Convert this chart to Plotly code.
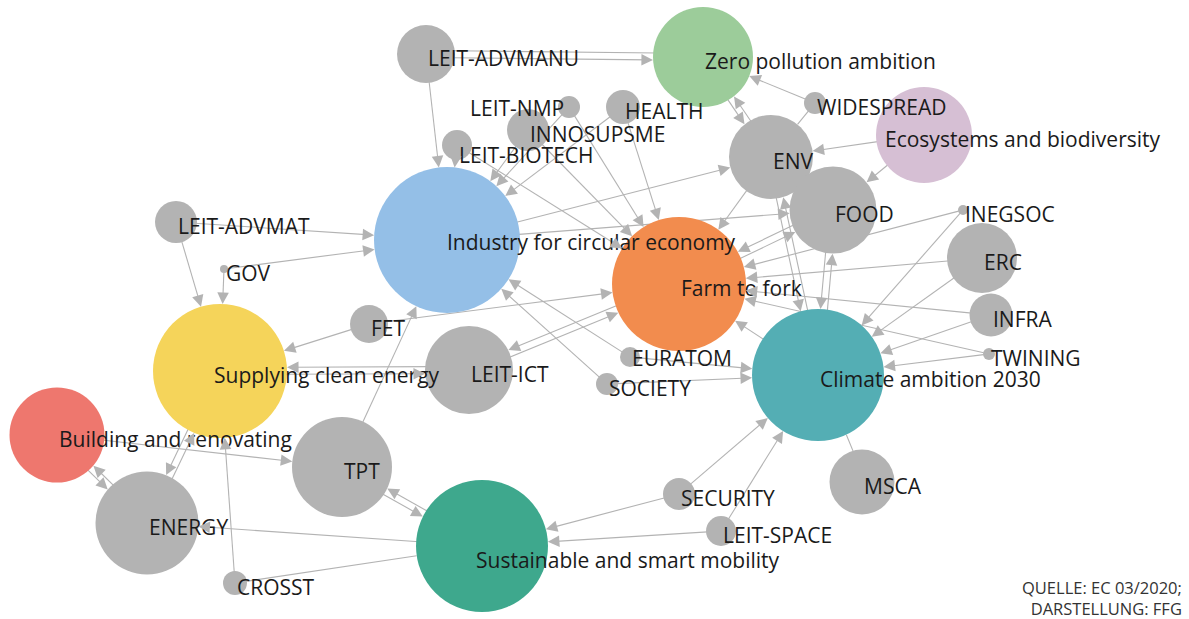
import math
import plotly.graph_objects as go

# ---------------- data ----------------
node_names = [
    "LEIT-ADVMANU", "Zero pollution ambition", "LEIT-NMP", "HEALTH", "INNOSUPSME",
    "LEIT-BIOTECH", "WIDESPREAD", "ENV", "Ecosystems and biodiversity", "FOOD",
    "INEGSOC", "ERC", "INFRA", "TWINING", "Climate ambition 2030",
    "Farm to fork", "Industry for circular economy", "LEIT-ADVMAT", "GOV",
    "Supplying clean energy", "FET", "LEIT-ICT", "EURATOM", "SOCIETY",
    "Building and renovating", "ENERGY", "TPT", "CROSST",
    "Sustainable and smart mobility", "SECURITY", "LEIT-SPACE", "MSCA",
]
node_x = [426, 703, 569, 623, 528, 457, 815, 771, 924, 833, 963, 982, 991, 989, 818,
          679, 447, 176, 224, 220, 369, 469, 630, 607, 57, 147, 342, 235, 482, 679, 721, 862]
node_y = [54, 57, 107, 107, 130, 145, 103, 157, 135, 210, 210, 258, 315, 354, 375,
          284, 240, 222, 269, 371, 324, 370, 357, 384, 435, 523, 467, 583, 546, 494, 531, 482]
node_size = [29, 50, 11, 17, 21, 15, 11, 42, 48, 43.5, 5, 35, 21.5, 6, 66,
             67, 73, 21, 4, 67, 19, 44, 10, 11, 47.5, 51.5, 50, 12, 66, 16, 15, 32.5]
GRAY = "#b3b3b3"
node_color = [GRAY, "#9ccc9a", GRAY, GRAY, GRAY, GRAY, GRAY, GRAY, "#d6bfd4", GRAY,
              GRAY, GRAY, GRAY, GRAY, "#54aeb4", "#f28c4e", "#94bfe7", GRAY, GRAY,
              "#f5d45a", GRAY, GRAY, GRAY, GRAY, "#ee776e", GRAY, GRAY, GRAY,
              "#3ea88d", GRAY, GRAY, GRAY]
label_dx = [0, 0, -101, 0, 0, 0, 0, 0, -41, 0, 0, 0, 0, 0, 0,
            0, -2, 0, 0, -8, 0, 0, 0, 0, 0, 0, 0, 0, -8, 0, 0, 0]
label_dy = [0, 0, -3, 0, 0, 6, 0, 0, 0, 0, 0, 0, 0, 0, 0,
            0, -2, 0, 0, 0, 0, 0, -3, 0, 0, 0, 0, 0, 10, 0, 0, 0]

edge_src = [
    "LEIT-ADVMANU", "Zero pollution ambition", "LEIT-ADVMANU",
    "LEIT-BIOTECH", "LEIT-NMP", "INNOSUPSME", "HEALTH",
    "LEIT-BIOTECH", "INNOSUPSME", "LEIT-NMP", "HEALTH",
    "Zero pollution ambition", "ENV", "WIDESPREAD", "WIDESPREAD",
    "Ecosystems and biodiversity", "Ecosystems and biodiversity",
    "Industry for circular economy", "Industry for circular economy",
    "ENV", "ENV", "Climate ambition 2030", "FOOD", "Climate ambition 2030",
    "FOOD", "Farm to fork", "INEGSOC", "INEGSOC", "ERC", "ERC",
    "INFRA", "INFRA", "TWINING", "TWINING", "Climate ambition 2030",
    "EURATOM", "EURATOM", "SOCIETY", "SOCIETY",
    "LEIT-ICT", "Farm to fork", "LEIT-ICT", "Supplying clean energy",
    "FET", "FET", "TPT", "LEIT-ADVMAT", "LEIT-ADVMAT", "GOV", "GOV",
    "Building and renovating", "ENERGY", "Supplying clean energy", "ENERGY",
    "Building and renovating", "CROSST", "CROSST", "Sustainable and smart mobility",
    "TPT", "Sustainable and smart mobility", "SECURITY", "SECURITY",
    "LEIT-SPACE", "LEIT-SPACE", "MSCA", "Climate ambition 2030",
]
edge_tgt = [
    "Zero pollution ambition", "LEIT-ADVMANU", "Industry for circular economy",
    "Industry for circular economy", "Industry for circular economy",
    "Industry for circular economy", "Industry for circular economy",
    "Farm to fork", "Farm to fork", "Farm to fork", "Farm to fork",
    "ENV", "Zero pollution ambition", "Zero pollution ambition", "ENV",
    "ENV", "FOOD",
    "ENV", "FOOD",
    "Farm to fork", "Climate ambition 2030", "ENV", "Climate ambition 2030", "FOOD",
    "Farm to fork", "FOOD", "Farm to fork", "Climate ambition 2030",
    "Farm to fork", "Climate ambition 2030",
    "Farm to fork", "Climate ambition 2030", "Farm to fork", "Climate ambition 2030",
    "Farm to fork",
    "Industry for circular economy", "Climate ambition 2030",
    "Industry for circular economy", "Climate ambition 2030",
    "Farm to fork", "LEIT-ICT", "Supplying clean energy", "LEIT-ICT",
    "Supplying clean energy", "Farm to fork", "Industry for circular economy",
    "Industry for circular economy", "Supplying clean energy",
    "Industry for circular economy", "Supplying clean energy",
    "ENERGY", "Building and renovating", "ENERGY", "Supplying clean energy",
    "TPT", "Supplying clean energy", "Sustainable and smart mobility", "ENERGY",
    "Sustainable and smart mobility", "TPT", "Sustainable and smart mobility",
    "Climate ambition 2030", "Sustainable and smart mobility", "Climate ambition 2030",
    "Climate ambition 2030", "MSCA",
]
edge_arrow = [True, False, True] + [True] * 11 + [False] + [True] * 41 + [False] + \
             [True] * 7 + [False]

source_text = "QUELLE: EC 03/2020;<br>DARSTELLUNG: FFG"

# ---------------- build ----------------
W, H = 1189, 619
EDGE_COL = "#b3b3b3"
FONT = "Open Sans"
idx = {n: i for i, n in enumerate(node_names)}
pairs = set(zip(edge_src, edge_tgt))

lx, ly = [], []
annotations = []
ARROW_LEN = 10
for s, t, arr in zip(edge_src, edge_tgt, edge_arrow):
    i, j = idx[s], idx[t]
    x0, y0, x1, y1 = node_x[i], node_y[i], node_x[j], node_y[j]
    dx, dy = x1 - x0, y1 - y0
    d = math.hypot(dx, dy)
    ux, uy = dx / d, dy / d
    off = 3.5 if (t, s) in pairs else 0.0
    px, py = -uy * off, ux * off
    sx, sy = x0 + px + ux * node_size[i] * 0.9, y0 + py + uy * node_size[i] * 0.9
    hx, hy = x1 + px - ux * node_size[j], y1 + py - uy * node_size[j]
    if arr:
        ex, ey = hx - ux * 4, hy - uy * 4
    else:
        ex, ey = hx, hy
    lx += [sx, ex, None]
    ly += [sy, ey, None]
    if arr:
        annotations.append(dict(
            x=hx, y=hy, xref="x", yref="y",
            ax=-ux * ARROW_LEN, ay=-uy * ARROW_LEN, axref="pixel", ayref="pixel",
            text="", showarrow=True, arrowhead=2, arrowsize=2.1, arrowwidth=1.1,
            arrowcolor=EDGE_COL, standoff=0,
        ))

fig = go.Figure()
fig.add_trace(go.Scatter(x=lx, y=ly, mode="lines",
                         line=dict(color=EDGE_COL, width=1.1),
                         hoverinfo="skip", showlegend=False))
fig.add_trace(go.Scatter(x=node_x, y=node_y, mode="markers",
                         marker=dict(size=[2 * r for r in node_size], color=node_color,
                                     line=dict(width=0), opacity=1),
                         hoverinfo="skip", showlegend=False))
fig.add_trace(go.Scatter(
    x=[x + dx + 2 for x, dx in zip(node_x, label_dx)],
    y=[y + dy + 7 for y, dy in zip(node_y, label_dy)],
    mode="text", text=node_names, textposition="middle right",
    textfont=dict(family=FONT, size=21, color="#1a1a1a"),
    hoverinfo="skip", showlegend=False))

annotations.append(dict(
    x=W - 5, y=598, xref="x", yref="y", xanchor="right", yanchor="middle",
    align="right", text=source_text, showarrow=False,
    font=dict(family=FONT, size=16.5, color="#333333"),
))

fig.update_layout(
    width=W, height=H, margin=dict(l=0, r=0, t=0, b=0),
    paper_bgcolor="white", plot_bgcolor="white",
    xaxis=dict(range=[0, W], visible=False, fixedrange=True),
    yaxis=dict(range=[H, 0], visible=False, fixedrange=True),
    annotations=annotations,
    showlegend=False,
)
fig.write_html(
    "out.html",
    config={"displayModeBar": False},
    post_script="document.body.style.margin='0';document.body.style.overflow='hidden';",
)
